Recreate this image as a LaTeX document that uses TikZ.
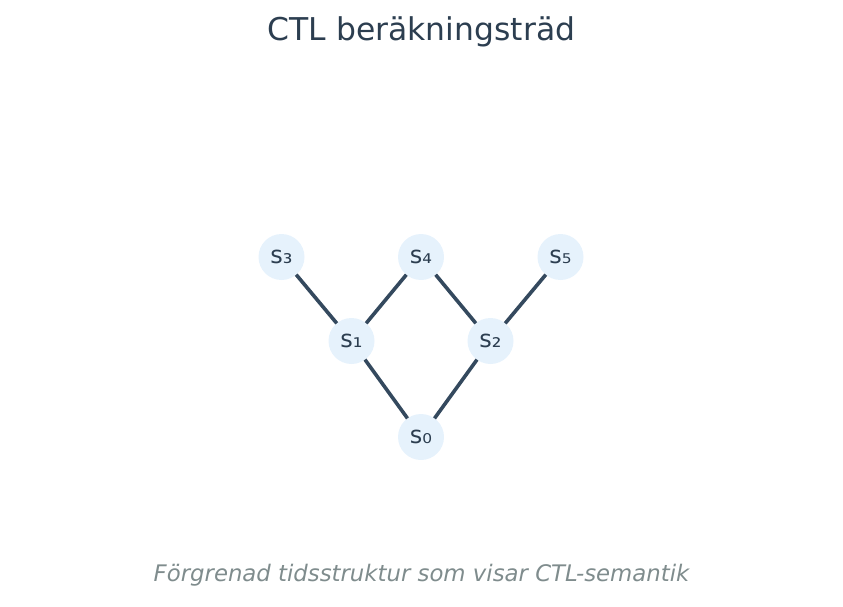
\documentclass[tikz,border=0pt]{standalone}
\usepackage{fontspec}
\setmainfont{DejaVu Sans}
\usetikzlibrary{positioning}

\definecolor{titlecol}{HTML}{2C3E50}
\definecolor{edgecol}{HTML}{34495E}
\definecolor{statefill}{HTML}{E6F2FC}
\definecolor{notecol}{HTML}{7F8C8D}

\begin{document}
\begin{tikzpicture}[x=1pt,y=-1pt,
  state/.style={circle,fill=statefill,minimum size=46pt,inner sep=0pt,outer sep=0pt,
    text=titlecol,font=\fontsize{24}{24}\selectfont},
  edge/.style={draw=edgecol,line width=3.6pt},
  node distance=0pt,on grid]

        \useasboundingbox (0,0) rectangle (843,607);

        \node[anchor=base,text=titlecol,font=\fontsize{31.4}{31.4}\selectfont] (title) at (421.5,41) {CTL beräkningsträd};

        \node[state] (s0) at (421,437) {s₀};
        \node[state] (s1) [above left = 96pt and 69.5pt of s0] {s₁};
        \node[state] (s2) [above right = 96pt and 69.5pt of s0] {s₂};
        \node[state] (s3) [above left = 84pt and 70pt of s1] {s₃};
        \node[state] (s4) [above right = 84pt and 69.5pt of s1] {s₄};
        \node[state] (s5) [above right = 84pt and 70pt of s2] {s₅};

        \draw[edge] (s0) -- (s1);
        \draw[edge] (s0) -- (s2);
        \draw[edge] (s1) -- (s3);
        \draw[edge] (s1) -- (s4);
        \draw[edge] (s2) -- (s4);
        \draw[edge] (s2) -- (s5);

        \node[anchor=base,text=notecol,font=\fontsize{22.8}{22.8}\itshape] (note) at (421.5,581) {Förgrenad tidsstruktur som visar CTL-semantik};
      \end{tikzpicture}
\end{document}
